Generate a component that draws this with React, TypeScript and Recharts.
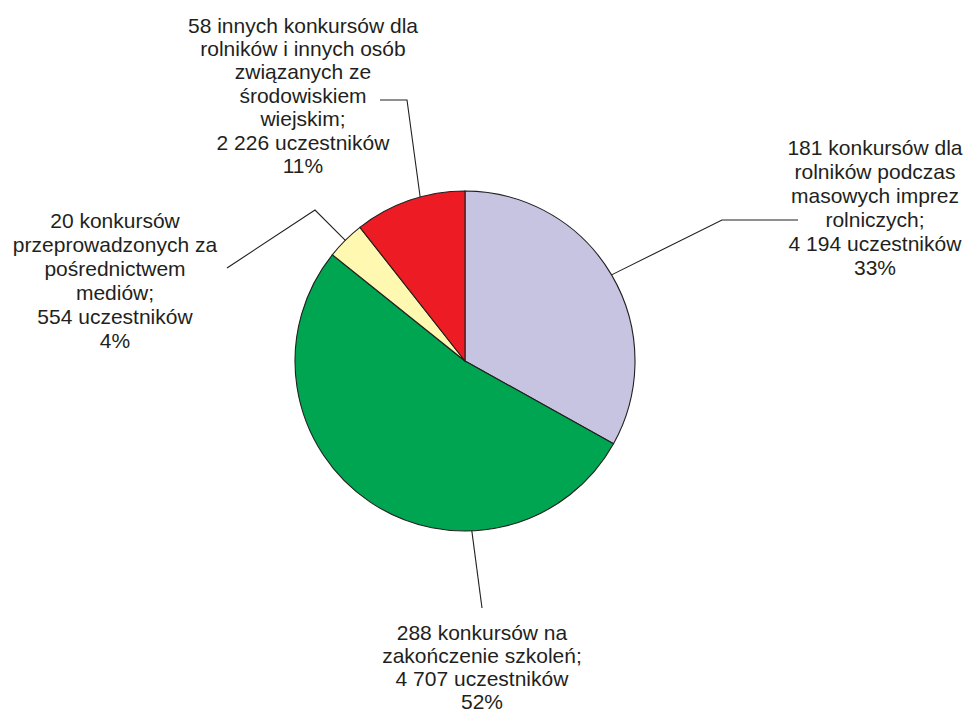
import React from "react";
import { PieChart, Pie, Cell } from "recharts";

// ---- data ----
const contests = [181, 288, 20, 58];
const descriptionLines = [
  ["konkursów dla", "rolników podczas", "masowych imprez", "rolniczych;"],
  ["konkursów na", "zakończenie szkoleń;"],
  ["konkursów", "przeprowadzonych za", "pośrednictwem", "mediów;"],
  ["innych konkursów dla", "rolników i innych osób", "związanych ze", "środowiskiem", "wiejskim;"],
];
const participants = [4194, 4707, 554, 2226];
const percentLabels = ["33%", "52%", "4%", "11%"];
const colors = ["#C6C4E1", "#00A551", "#FFF8B0", "#ED1C24"];

// ---- layout (page coordinates) ----
const CX = 465;
const CY = 361;
const R = 170;
const FONT = 21;
const INK = "#231F20";
const labelLayout: { x: number; y0: number; lh: number; anchorAngle: number | null; path: number[][] }[] = [
  { x: 875, y0: 147, lh: 24, anchorAngle: null, path: [[722, 220], [798, 220]] },
  { x: 482, y0: 632, lh: 23.3, anchorAngle: -87.7, path: [[482, 608]] },
  { x: 115, y0: 220, lh: 24, anchorAngle: null, path: [[315, 210], [227, 268]] },
  { x: 303, y0: 25, lh: 23.4, anchorAngle: 105.3, path: [[407, 100], [380, 100]] },
];

const fmt = (n: number) => String(n).replace(/\B(?=(\d{3})+(?!\d))/g, " ");

const data = contests.map((c, i) => ({
  name: descriptionLines[i].join(" "),
  value: c,
  lines: [
    `${c} ${descriptionLines[i][0]}`,
    ...descriptionLines[i].slice(1),
    `${fmt(participants[i])} uczestników`,
    percentLabels[i],
  ],
}));

const RAD = Math.PI / 180;

const renderLabel = (props: any) => {
  const { cx, cy, outerRadius, midAngle, index } = props;
  const lay = labelLayout[index];
  const ang = lay.anchorAngle ?? midAngle;
  const sx = cx + outerRadius * Math.cos(-ang * RAD);
  const sy = cy + outerRadius * Math.sin(-ang * RAD);
  const pts = [[sx, sy], ...lay.path];
  const lines: string[] = data[index].lines;
  return (
    <g key={`lbl-${index}`}>
      <polyline
        points={pts.map((p) => p.join(",")).join(" ")}
        fill="none"
        stroke={INK}
        strokeWidth={1.1}
      />
      <text
        x={lay.x}
        y={lay.y0 + 7.5}
        textAnchor="middle"
        fontFamily="'Liberation Sans', Arial, sans-serif"
        fontSize={FONT}
        fill={INK}
      >
        {lines.map((l, k) => (
          <tspan key={k} x={lay.x} y={lay.y0 + 7.5 + k * lay.lh}>
            {l}
          </tspan>
        ))}
      </text>
    </g>
  );
};

export default function App() {
  return (
    <div style={{ position: "absolute", left: 0, top: 0, width: 966, height: 713, background: "#fff" }}>
      <PieChart width={966} height={713} margin={{ top: 0, right: 0, bottom: 0, left: 0 }}>
        <Pie
          data={data}
          dataKey="value"
          nameKey="name"
          cx={CX}
          cy={CY}
          outerRadius={R}
          startAngle={90}
          endAngle={-270}
          stroke={INK}
          strokeWidth={1.1}
          label={renderLabel}
          labelLine={false}
          isAnimationActive={false}
        >
          {data.map((d, i) => (
            <Cell key={i} fill={colors[i]} />
          ))}
        </Pie>
      </PieChart>
    </div>
  );
}
